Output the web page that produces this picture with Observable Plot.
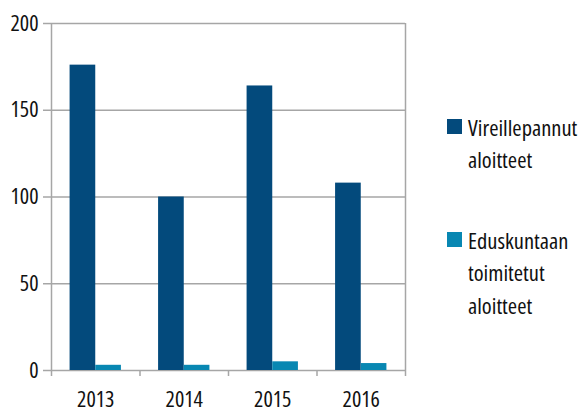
<!DOCTYPE html>
<html><head><meta charset="utf-8">
<script src="https://cdn.jsdelivr.net/npm/d3@7"></script>
<script src="https://cdn.jsdelivr.net/npm/@observablehq/plot@0.6"></script>
<style>
body{margin:0;background:#fff;}
#wrap{position:relative;width:580px;height:413px;font-family:"Open Sans",sans-serif;font-stretch:condensed;color:#111;}
.lg{position:absolute;left:447px;font-size:22.5px;line-height:32.5px;}
.sw{position:absolute;left:0;width:15px;height:15px;}
.lt{position:absolute;left:21px;white-space:nowrap;}
</style></head><body><div id="wrap"></div>
<script>
const years = [2013, 2014, 2015, 2016];
const seriesNames = ["Vireillepannut aloitteet", "Eduskuntaan toimitetut aloitteet"];
const legendLines = [["Vireillepannut", "aloitteet"], ["Eduskuntaan", "toimitetut", "aloitteet"]];
const vireillepannut = [176, 100, 164, 108];
const toimitetut = [3, 3, 5, 4];
const yTicks = [0, 50, 100, 150, 200];
const colors = ["#034a7c", "#0887b2"];
const gray = "#a6a6a6";

const half = 0.29;
const data = years.flatMap((yr, i) => [
  {year: yr, series: seriesNames[0], value: vireillepannut[i], side: -1},
  {year: yr, series: seriesNames[1], value: toimitetut[i], side: 1}
]);
const bounds = years.map(y => y - 0.5).concat([years[years.length - 1] + 0.5]);

const chart = Plot.plot({
  width: 420, height: 413,
  marginLeft: 51, marginRight: 15, marginTop: 23, marginBottom: 43,
  style: {fontFamily: '"Open Sans",sans-serif', fontStretch: "condensed", fontSize: "22px", color: "#111", background: "#fff"},
  x: {type: "linear", domain: [bounds[0], bounds[bounds.length - 1]]},
  y: {domain: [0, 200]},
  color: {domain: seriesNames, range: colors},
  marks: [
    Plot.ruleY(yTicks, {stroke: gray, strokeWidth: 1.5}),
    Plot.ruleX([bounds[0], bounds[bounds.length - 1]], {stroke: gray, strokeWidth: 1.5}),
    Plot.rectY(data, {
      x1: d => d.side < 0 ? d.year - half : d.year,
      x2: d => d.side < 0 ? d.year : d.year + half,
      y: "value", fill: "series"
    }),
    Plot.axisY({ticks: yTicks, tickSize: 8, tickPadding: 5, stroke: gray, strokeWidth: 1.5, fill: "#111", fontSize: 22, label: null}),
    Plot.axisX({ticks: years, tickSize: 0, tickPadding: 21, tickFormat: d => String(d), fill: "#111", fontSize: 22, label: null}),
    Plot.axisX({ticks: bounds, tickSize: 6, tickFormat: () => "", stroke: gray, strokeWidth: 1.5, label: null})
  ]
});
chart.style.position = "absolute";
chart.style.left = "0px";
chart.style.top = "0px";
const wrap = document.getElementById("wrap");
wrap.appendChild(chart);

const tops = [111.5, 224.5];
const swTops = [7.5, 7.5];
legendLines.forEach((lines, i) => {
  const g = document.createElement("div");
  g.className = "lg";
  g.style.top = tops[i] + "px";
  const sw = document.createElement("div");
  sw.className = "sw";
  sw.style.top = swTops[i] + "px";
  sw.style.background = colors[i];
  g.appendChild(sw);
  const t = document.createElement("div");
  t.className = "lt";
  t.innerHTML = lines.join("<br>");
  g.appendChild(t);
  wrap.appendChild(g);
});
</script></body></html>
